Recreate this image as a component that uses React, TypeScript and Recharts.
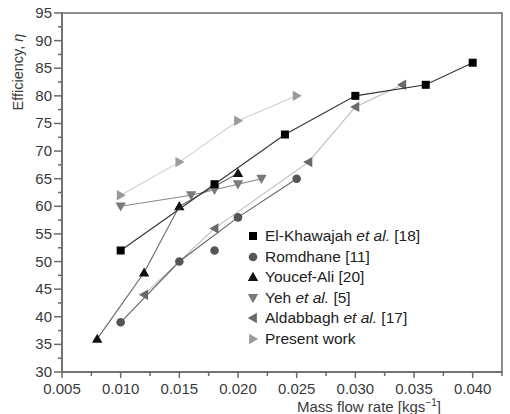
import React from "react"
import { ReferenceArea, Scatter, ScatterChart, XAxis, YAxis } from "recharts"

document.body.style.margin = "0"

// x: mass flow rate [kg/s], y: efficiency
const khawajahX = [0.01, 0.018, 0.024, 0.03, 0.036, 0.04]
const khawajahY = [52, 64, 73, 80, 82, 86]
const romdhaneX = [0.01, 0.015, 0.02, 0.025]
const romdhaneY = [39, 50, 58, 65]
const romdhaneOffX = [0.018]
const romdhaneOffY = [52]
const youcefX = [0.008, 0.012, 0.015, 0.02]
const youcefY = [36, 48, 60, 66]
const yehX = [0.01, 0.016, 0.018, 0.02, 0.022]
const yehY = [60, 62, 63, 64, 65]
const aldabbaghX = [0.012, 0.018, 0.026, 0.03, 0.034]
const aldabbaghY = [44, 56, 68, 78, 82]
const presentX = [0.01, 0.015, 0.02, 0.025]
const presentY = [62, 68, 75.5, 80]

const xMajor = [0.005, 0.01, 0.015, 0.02, 0.025, 0.03, 0.035, 0.04]
const xLabels = ["0.005", "0.010", "0.015", "0.020", "0.025", "0.030", "0.035", "0.040"]
const yMajor = [30, 35, 40, 45, 50, 55, 60, 65, 70, 75, 80, 85, 90, 95]

const xTicks = [...xMajor, ...xMajor.map((v) => v + 0.0025)]
const yTicks = [...yMajor, ...yMajor.slice(0, -1).map((v) => v + 2.5)]

const zip = (xs: number[], ys: number[]) => xs.map((x, i) => ({ x, y: ys[i] }))

const AXIS = "#6a6a6a"
const TEXT = "#3a3a3a"
const FONT = "'Liberation Sans', Arial, sans-serif"

type Kind = "square" | "circle" | "up" | "down" | "left" | "right"

function markerPath(kind: Kind, cx: number, cy: number) {
  const r = 5.2
  switch (kind) {
    case "up":
      return `M${cx},${cy - r}L${cx + r},${cy + r * 0.75}L${cx - r},${cy + r * 0.75}Z`
    case "down":
      return `M${cx},${cy + r}L${cx + r},${cy - r * 0.75}L${cx - r},${cy - r * 0.75}Z`
    case "left":
      return `M${cx - r},${cy}L${cx + r * 0.75},${cy - r}L${cx + r * 0.75},${cy + r}Z`
    default:
      return `M${cx + r},${cy}L${cx - r * 0.75},${cy - r}L${cx - r * 0.75},${cy + r}Z`
  }
}

function Mark({ kind, cx, cy, fill }: { kind: Kind; cx: number; cy: number; fill: string }) {
  if (kind === "square") return <rect x={cx - 4} y={cy - 4} width={8} height={8} fill={fill} />
  if (kind === "circle") return <circle cx={cx} cy={cy} r={4.3} fill={fill} />
  return <path d={markerPath(kind, cx, cy)} fill={fill} />
}

const shape = (kind: Kind, fill: string) => (p: any) => <Mark kind={kind} cx={p.cx} cy={p.cy} fill={fill} />

const series = [
  { name: "El-Khawajah", ital: true, ref: "[18]", kind: "square" as Kind, fill: "#000", line: "#333", data: zip(khawajahX, khawajahY) },
  { name: "Romdhane", ital: false, ref: "[11]", kind: "circle" as Kind, fill: "#555", line: "#666", data: zip(romdhaneX, romdhaneY) },
  { name: "Youcef-Ali", ital: false, ref: "[20]", kind: "up" as Kind, fill: "#111", line: "#666", data: zip(youcefX, youcefY) },
  { name: "Yeh", ital: true, ref: "[5]", kind: "down" as Kind, fill: "#7a7a7a", line: "#888", data: zip(yehX, yehY) },
  { name: "Aldabbagh", ital: true, ref: "[17]", kind: "left" as Kind, fill: "#6a6a6a", line: "#bbb", data: zip(aldabbaghX, aldabbaghY) },
  { name: "Present work", ital: false, ref: "", kind: "right" as Kind, fill: "#9a9a9a", line: "#cfcfcf", data: zip(presentX, presentY) },
]

function XTick({ x, y, payload }: any) {
  const v = payload.value
  const i = xMajor.findIndex((m) => Math.abs(m - v) < 1e-9)
  return (
    <g>
      <line x1={x} x2={x} y1={y} y2={y + (i >= 0 ? 6 : 4)} stroke={AXIS} strokeWidth={1.5} />
      {i >= 0 && (
        <text x={x} y={y + 22} textAnchor="middle" fontSize={15} fill={TEXT} fontFamily={FONT}>
          {xLabels[i]}
        </text>
      )}
    </g>
  )
}

function YTick({ x, y, payload }: any) {
  const v = payload.value
  const major = yMajor.includes(v)
  return (
    <g>
      <line x1={x - (major ? 8 : 4)} x2={x} y1={y} y2={y} stroke={AXIS} strokeWidth={1.5} />
      {major && (
        <text x={x - 10} y={y + 5} textAnchor="end" fontSize={15} fill={TEXT} fontFamily={FONT}>
          {v}
        </text>
      )}
    </g>
  )
}

function LegendBox() {
  return (
    <div style={{ fontFamily: FONT, fontSize: 15.5, color: "#222", lineHeight: "20.5px" }}>
      {series.map((s) => (
        <div key={s.name} style={{ display: "flex", alignItems: "center", whiteSpace: "nowrap" }}>
          <svg width={14} height={14} style={{ marginRight: 5 }}>
            <Mark kind={s.kind} cx={7} cy={7} fill={s.fill} />
          </svg>
          <span>
            {s.name}
            {s.ital && <i> et al.</i>}
            {s.ref ? " " + s.ref : ""}
          </span>
        </div>
      ))}
    </div>
  )
}

export default function App() {
  return (
    <div style={{ position: "relative", width: 510, height: 414, background: "#fff" }}>
      <ScatterChart width={510} height={414} margin={{ top: 13, right: 8, left: 0, bottom: 0 }}>
        <XAxis
          type="number"
          dataKey="x"
          domain={[0.005, 0.0425]}
          ticks={xTicks}
          interval={0}
          tickSize={0}
          tickMargin={0}
          tick={<XTick />}
          height={42}
          stroke={AXIS}
          strokeWidth={1.5}
          allowDataOverflow
        />
        <YAxis
          type="number"
          dataKey="y"
          domain={[30, 95]}
          ticks={yTicks}
          interval={0}
          tickSize={0}
          tickMargin={0}
          tick={<YTick />}
          width={62}
          stroke={AXIS}
          strokeWidth={1.5}
          allowDataOverflow
        />
        <ReferenceArea x1={0.005} x2={0.0425} y1={30} y2={95} fill="none" stroke={AXIS} strokeWidth={1.5} ifOverflow="visible" />
        {[...series].reverse().map((s) => (
          <Scatter
            key={s.name}
            name={s.name}
            data={s.data}
            line={{ stroke: s.line, strokeWidth: 1.1 }}
            lineType="joint"
            shape={shape(s.kind, s.fill)}
            isAnimationActive={false}
          />
        ))}
        <Scatter
          name="Romdhane outlier"
          data={zip(romdhaneOffX, romdhaneOffY)}
          shape={shape("circle", "#555")}
          legendType="none"
          isAnimationActive={false}
        />
      </ScatterChart>
      <div style={{ position: "absolute", left: 246, top: 226 }}>
        <LegendBox />
      </div>
      <div
        style={{
          position: "absolute",
          left: 297,
          top: 400,
          fontFamily: FONT,
          fontSize: 15,
          lineHeight: "14px",
          color: TEXT,
          whiteSpace: "nowrap",
        }}
      >
        Mass flow rate [kgs
        <span style={{ fontSize: 10, position: "relative", top: -6 }}>−1</span>]
      </div>
      <div
        style={{
          position: "absolute",
          left: 18,
          top: 72,
          transform: "translate(-50%, -50%) rotate(-90deg)",
          fontFamily: FONT,
          fontSize: 14.5,
          color: TEXT,
          whiteSpace: "nowrap",
        }}
      >
        Efficiency, <i>η</i>
      </div>
    </div>
  )
}
